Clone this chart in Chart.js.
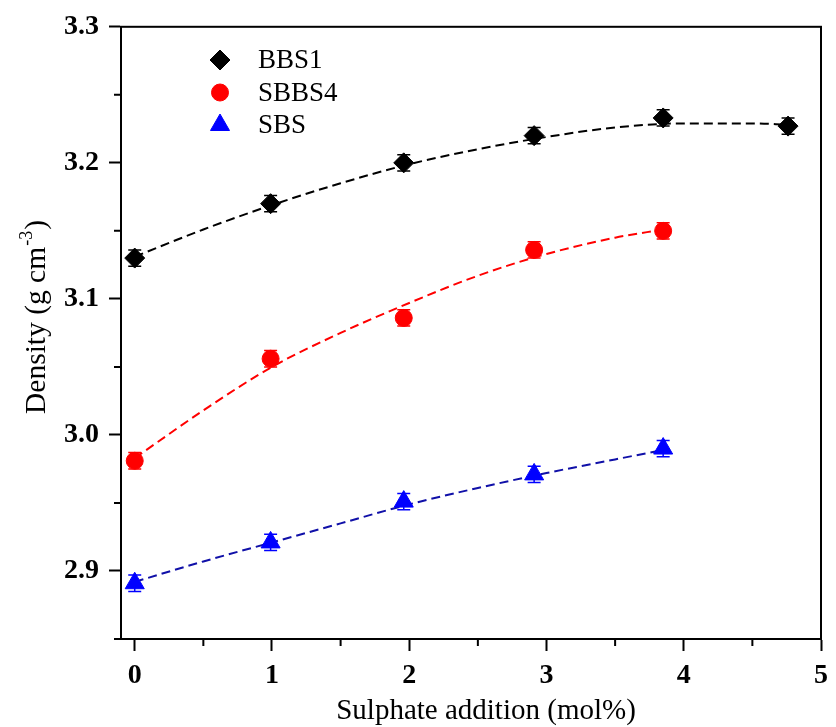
<!DOCTYPE html>
<html>
<head>
<meta charset="utf-8">
<script src="https://cdn.jsdelivr.net/npm/chart.js@4/dist/chart.umd.min.js"></script>
<style>
  html, body { margin: 0; padding: 0; background: #ffffff; }
  #wrap { width: 836px; height: 727px; position: relative; }
</style>
</head>
<body>
<div id="wrap"><canvas id="c" width="836" height="727"></canvas></div>
<script>
// ---- Data ----
const seriesNames = ['BBS1', 'SBBS4', 'SBS'];
const xBBS1 = [0, 0.99, 1.96, 2.91, 3.85, 4.76];
const yBBS1 = [3.130, 3.170, 3.200, 3.220, 3.233, 3.227];
const xOther = [0, 0.99, 1.96, 2.91, 3.85];
const ySBBS4 = [2.981, 3.056, 3.086, 3.136, 3.150];
const ySBS = [2.891, 2.921, 2.951, 2.971, 2.990];
const errBBS1 = [0.006, 0.006, 0.006, 0.006, 0.006, 0.006];
const errSBBS4 = [0.006, 0.006, 0.006, 0.006, 0.006];
const errSBS = [0.006, 0.006, 0.006, 0.006, 0.006];

// fitted (dashed) curves
const fitXBBS1 = [0, 0.5, 1, 1.5, 2, 2.5, 3, 3.5, 4, 4.5, 4.76];
const fitYBBS1 = [3.131, 3.151, 3.169, 3.185, 3.199, 3.210, 3.219, 3.226, 3.229, 3.229, 3.228];
const fitXOther = [0, 0.5, 1, 1.5, 2, 2.5, 3, 3.5, 3.85];
const fitYSBBS4 = [2.983, 3.018, 3.050, 3.075, 3.097, 3.117, 3.133, 3.145, 3.151];
const fitYSBS = [2.892, 2.907, 2.921, 2.935, 2.949, 2.961, 2.972, 2.982, 2.989];

// axis ticks
const xTicks = [0, 1, 2, 3, 4, 5];
const xMinorTicks = [0.5, 1.5, 2.5, 3.5, 4.5];
const yTicks = [2.9, 3.0, 3.1, 3.2, 3.3];
const yMinorTicks = [2.85, 2.95, 3.05, 3.15, 3.25];
const xTitle = 'Sulphate addition (mol%)';
const yTitleMain = 'Density (g cm';
const yTitleSup = '-3';
const yTitleEnd = ')';

const FONT = "'Liberation Serif', 'Times New Roman', serif";
const colors = ['#000000', '#ff0000', '#0000ff'];
const lineColors = ['#000000', '#ff0000', '#1010a8'];
const styles = ['rectRot', 'circle', 'triangle'];
const radii = [10, 8.5, 11];

const zip = (xs, ys) => xs.map((x, i) => ({ x: x, y: ys[i] }));

const pointData = [zip(xBBS1, yBBS1), zip(xOther, ySBBS4), zip(xOther, ySBS)];
const errData = [errBBS1, errSBBS4, errSBS];
const fitData = [zip(fitXBBS1, fitYBBS1), zip(fitXOther, fitYSBBS4), zip(fitXOther, fitYSBS)];

const datasets = [];
for (let i = 0; i < 3; i++) {
  datasets.push({
    label: seriesNames[i] + ' fit',
    data: fitData[i],
    showLine: true,
    borderColor: lineColors[i],
    borderWidth: 2,
    borderDash: [9, 5],
    pointRadius: 0,
    cubicInterpolationMode: 'monotone',
    fill: false,
    order: 2
  });
}
for (let i = 0; i < 3; i++) {
  datasets.push({
    label: seriesNames[i],
    data: pointData[i],
    errors: errData[i],
    showLine: false,
    pointStyle: styles[i],
    pointRadius: radii[i],
    pointHoverRadius: radii[i],
    backgroundColor: colors[i],
    borderColor: colors[i],
    borderWidth: 1,
    order: 1
  });
}

const decorPlugin = {
  id: 'decor',
  beforeDatasetsDraw(chart) {
    const ctx = chart.ctx;
    const xs = chart.scales.x, ys = chart.scales.y;
    ctx.save();
    chart.data.datasets.forEach((ds, di) => {
      if (!ds.errors) return;
      ctx.strokeStyle = ds.borderColor;
      ctx.lineWidth = 1.5;
      ds.data.forEach((p, i) => {
        const px = xs.getPixelForValue(p.x);
        const pt = ys.getPixelForValue(p.y + ds.errors[i]);
        const pb = ys.getPixelForValue(p.y - ds.errors[i]);
        ctx.beginPath();
        ctx.moveTo(px, pt); ctx.lineTo(px, pb);
        ctx.moveTo(px - 6.5, pt); ctx.lineTo(px + 6.5, pt);
        ctx.moveTo(px - 6.5, pb); ctx.lineTo(px + 6.5, pb);
        ctx.stroke();
      });
    });
    ctx.restore();
  },
  afterDraw(chart) {
    const ctx = chart.ctx;
    const a = chart.chartArea;
    const xs = chart.scales.x, ys = chart.scales.y;
    ctx.save();
    // frame
    ctx.strokeStyle = '#000';
    ctx.lineWidth = 2;
    ctx.strokeRect(a.left, a.top, a.right - a.left, a.bottom - a.top);
    // minor ticks
    ctx.beginPath();
    xMinorTicks.forEach(v => {
      const px = xs.getPixelForValue(v);
      ctx.moveTo(px, a.bottom); ctx.lineTo(px, a.bottom + 7);
    });
    yMinorTicks.forEach(v => {
      const py = ys.getPixelForValue(v);
      ctx.moveTo(a.left, py); ctx.lineTo(a.left - 7, py);
    });
    ctx.stroke();

    // legend
    const lx = 220, tx = 258, rows = [60, 92.5, 125];
    ctx.font = '27px ' + FONT;
    ctx.textBaseline = 'middle';
    ctx.textAlign = 'left';
    for (let i = 0; i < 3; i++) {
      ctx.fillStyle = colors[i];
      ctx.strokeStyle = colors[i];
      ctx.lineWidth = 1;
      Chart.helpers.drawPoint(ctx, { pointStyle: styles[i], radius: radii[i], rotation: 0, borderWidth: 1 }, lx, rows[i]);
      ctx.fillStyle = '#000';
      ctx.fillText(seriesNames[i], tx, rows[i] + 1);
    }

    // x title
    ctx.fillStyle = '#000';
    ctx.font = '29px ' + FONT;
    ctx.textAlign = 'center';
    ctx.textBaseline = 'middle';
    ctx.fillText(xTitle, 486, 711);

    // y title with superscript
    ctx.translate(35, 317);
    ctx.rotate(-Math.PI / 2);
    const mainFont = '29.5px ' + FONT, supFont = '18px ' + FONT;
    ctx.font = mainFont; const w1 = ctx.measureText(yTitleMain).width;
    ctx.font = supFont; const w2 = ctx.measureText(yTitleSup).width;
    ctx.font = mainFont; const w3 = ctx.measureText(yTitleEnd).width;
    let x0 = -(w1 + w2 + w3 + 2) / 2;
    ctx.textAlign = 'left';
    ctx.textBaseline = 'alphabetic';
    ctx.font = mainFont; ctx.fillText(yTitleMain, x0, 10);
    ctx.font = supFont; ctx.fillText(yTitleSup, x0 + w1 + 1, -3);
    ctx.font = mainFont; ctx.fillText(yTitleEnd, x0 + w1 + w2 + 2, 10);
    ctx.restore();
  }
};

new Chart(document.getElementById('c'), {
  type: 'scatter',
  data: { datasets: datasets },
  options: {
    responsive: false,
    animation: false,
    devicePixelRatio: 1,
    layout: { padding: { left: 0, right: 9, top: 25, bottom: 0 } },
    plugins: { legend: { display: false }, tooltip: { enabled: false } },
    scales: {
      x: {
        type: 'linear', min: -0.1, max: 5,
        afterBuildTicks: s => { s.ticks = xTicks.map(v => ({ value: v })); },
        afterFit: s => { s.height = 88; },
        ticks: { color: '#000', font: { family: FONT, size: 28, weight: 'bold' }, padding: 8, maxRotation: 0, autoSkip: false, callback: v => String(v) },
        grid: { drawOnChartArea: false, tickLength: 12, tickWidth: 2, tickColor: '#000' },
        border: { display: true, color: '#000', width: 2 }
      },
      y: {
        type: 'linear', min: 2.85, max: 3.3,
        afterBuildTicks: s => { s.ticks = yTicks.map(v => ({ value: v })); },
        afterFit: s => { s.width = 121; },
        ticks: { color: '#000', font: { family: FONT, size: 28, weight: 'bold' }, padding: 10, autoSkip: false, callback: v => Number(v).toFixed(1) },
        grid: { drawOnChartArea: false, tickLength: 12, tickWidth: 2, tickColor: '#000' },
        border: { display: true, color: '#000', width: 2 }
      }
    }
  },
  plugins: [decorPlugin]
});
</script>
</body>
</html>
